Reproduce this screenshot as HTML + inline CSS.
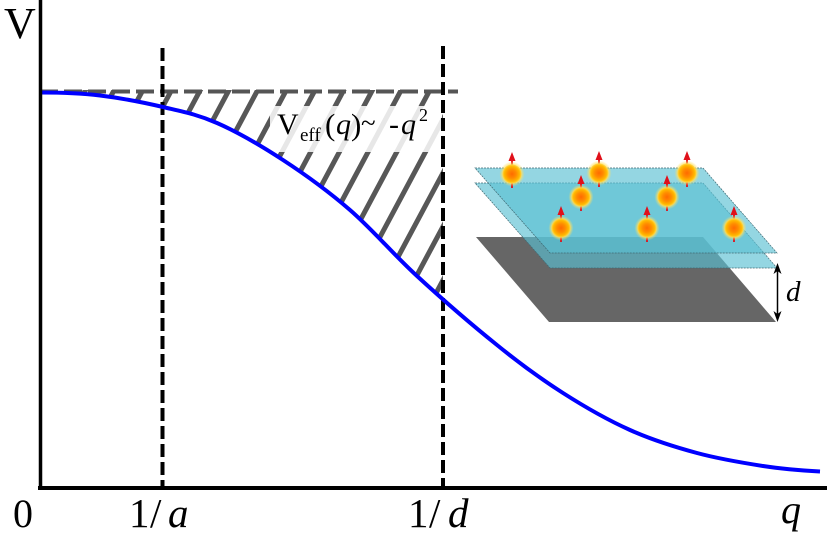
<!DOCTYPE html>
<html>
<head>
<meta charset="utf-8">
<style>
  html, body { margin: 0; padding: 0; background: #fff; width: 827px; height: 539px; overflow: hidden; }
  svg { display: block; overflow: hidden; }
  text { font-family: "Liberation Serif", "DejaVu Serif", serif; fill: #000; }
</style>
</head>
<body>
<svg width="827" height="539" viewBox="0 0 827 539" xmlns="http://www.w3.org/2000/svg">
  <defs>
    <clipPath id="hclip">
      <rect x="40" y="90" width="403" height="250"/>
    </clipPath>
    <radialGradient id="ball" cx="50%" cy="50%" r="50%">
      <stop offset="0%" stop-color="#ff6a00"/>
      <stop offset="45%" stop-color="#ff8c00"/>
      <stop offset="80%" stop-color="#ffb800"/>
      <stop offset="100%" stop-color="#ffd84a"/>
    </radialGradient>
    <radialGradient id="glow" cx="50%" cy="50%" r="50%">
      <stop offset="70%" stop-color="#ffe060" stop-opacity="0.9"/>
      <stop offset="100%" stop-color="#ffe060" stop-opacity="0"/>
    </radialGradient>
  </defs>

  <!-- hatch lines -->
  <g clip-path="url(#hclip)">
    <path stroke="#575757" stroke-width="5" fill="none" d="
      M88.2,85 L40,175
      M116.9,85 L40,228
      M145.6,85 L40,282
      M174.3,85 L40,336
      M203.0,85 L66.6,340
      M231.7,85 L95.3,340
      M260.4,85 L124.0,340
      M289.1,85 L152.7,340
      M317.8,85 L181.4,340
      M346.5,85 L210.1,340
      M375.2,85 L238.8,340
      M403.9,85 L267.5,340
      M432.6,85 L296.2,340
      M461.3,85 L324.9,340
      M490.0,85 L353.6,340
      M518.7,85 L382.3,340
      M547.4,85 L411.0,340"/>
  </g>

  <!-- white fill under the curve -->
  <path fill="#fff" d="M40,92.5 C60,92.5 79.5,93 100,95.5 C120.5,98 143.5,102.4 163,107 C182.5,111.6 197,114.2 217,123 C237,131.8 260.8,145.5 283,160 C305.2,174.5 327.7,190.7 350,210 C372.3,229.3 392.5,253.5 417,276 C441.5,298.5 472.7,325.5 497,345 C521.3,364.8 540.8,378.8 563,393 C585.2,407.2 607.7,420 630,430 C652.3,440 674.8,447 697,453 C719.2,459 742.5,462.8 763,466 C783.5,469.2 801,470.5 820,471.5 L820,487 L40,487 Z"/>

  <!-- label background -->
  <rect x="270" y="106" width="172" height="46" fill="#fff" fill-opacity="0.86"/>

  <!-- horizontal dashed line -->
  <line x1="40" y1="91.5" x2="458" y2="91.5" stroke="#555" stroke-width="4" stroke-dasharray="18 6"/>

  <!-- vertical dashed lines -->
  <line x1="162.5" y1="48" x2="162.5" y2="487" stroke="#000" stroke-width="4" stroke-dasharray="13 5"/>
  <line x1="443" y1="46" x2="443" y2="487" stroke="#000" stroke-width="4" stroke-dasharray="13 5"/>

  <!-- curve -->
  <path fill="none" stroke="#0000ff" stroke-width="4" d="M40,92.5 C60,92.5 79.5,93 100,95.5 C120.5,98 143.5,102.4 163,107 C182.5,111.6 197,114.2 217,123 C237,131.8 260.8,145.5 283,160 C305.2,174.5 327.7,190.7 350,210 C372.3,229.3 392.5,253.5 417,276 C441.5,298.5 472.7,325.5 497,345 C521.3,364.8 540.8,378.8 563,393 C585.2,407.2 607.7,420 630,430 C652.3,440 674.8,447 697,453 C719.2,459 742.5,462.8 763,466 C783.5,469.2 801,470.5 820,471.5"/>

  <!-- axes -->
  <line x1="40.5" y1="0" x2="40.5" y2="490" stroke="#000" stroke-width="3.5"/>
  <line x1="38" y1="488" x2="827" y2="488" stroke="#000" stroke-width="4"/>

  <!-- label V_eff(q) ~ -q^2 -->
  <text font-size="30" x="277" y="134">V</text>
  <text font-size="19" x="300" y="141">eff</text>
  <text font-size="31" x="325" y="135">(</text>
  <text font-size="30" x="336" y="134" font-style="italic">q</text>
  <text font-size="31" x="351" y="135">)</text>
  <text font-size="27" x="361" y="132">~</text>
  <text font-size="30" x="389" y="134">-</text>
  <text font-size="30" x="401" y="134" font-style="italic">q</text>
  <text font-size="18" x="419" y="121">2</text>

  <!-- axis labels -->
  <text font-size="44" x="4" y="38">V</text>
  <text font-size="40" x="13" y="527">0</text>
  <text font-size="41" y="527"><tspan x="129">1</tspan><tspan x="150">/</tspan><tspan x="168" font-style="italic">a</tspan></text>
  <text font-size="41" y="527"><tspan x="408">1</tspan><tspan x="429">/</tspan><tspan x="448" font-style="italic">d</tspan></text>
  <text font-size="40" x="781" y="523" font-style="italic">q</text>

  <!-- inset: gray substrate -->
  <polygon points="476,237 703,237 776,322 549,322" fill="#666"/>
  <!-- lower cyan plane -->
  <polygon points="475,183 703,183 777,268 550,268" fill="#5bc0d3" fill-opacity="0.65" stroke="#3e6a74" stroke-width="0.7" stroke-dasharray="2 1"/>
  <!-- upper cyan plane -->
  <polygon points="475,168 703,168 777,253 550,253" fill="#5bc0d3" fill-opacity="0.65" stroke="#3e6a74" stroke-width="0.7" stroke-dasharray="2 1"/>

  <!-- spins -->
  <g>
    <g transform="translate(512,174)">
      <line x1="0" y1="14" x2="0" y2="-15" stroke="#e0101a" stroke-width="1.8"/>
      <path d="M-3.5,-13 L0,-22 L3.5,-13 Z" fill="#e0101a"/>
      <circle r="12.5" fill="url(#glow)"/>
      <circle r="9.5" fill="url(#ball)"/>
    </g>
    <g transform="translate(599,173)">
      <line x1="0" y1="14" x2="0" y2="-15" stroke="#e0101a" stroke-width="1.8"/>
      <path d="M-3.5,-13 L0,-22 L3.5,-13 Z" fill="#e0101a"/>
      <circle r="12.5" fill="url(#glow)"/>
      <circle r="9.5" fill="url(#ball)"/>
    </g>
    <g transform="translate(687,173)">
      <line x1="0" y1="14" x2="0" y2="-15" stroke="#e0101a" stroke-width="1.8"/>
      <path d="M-3.5,-13 L0,-22 L3.5,-13 Z" fill="#e0101a"/>
      <circle r="12.5" fill="url(#glow)"/>
      <circle r="9.5" fill="url(#ball)"/>
    </g>
    <g transform="translate(581,197)">
      <line x1="0" y1="14" x2="0" y2="-15" stroke="#e0101a" stroke-width="1.8"/>
      <path d="M-3.5,-13 L0,-22 L3.5,-13 Z" fill="#e0101a"/>
      <circle r="12.5" fill="url(#glow)"/>
      <circle r="9.5" fill="url(#ball)"/>
    </g>
    <g transform="translate(667,197)">
      <line x1="0" y1="14" x2="0" y2="-15" stroke="#e0101a" stroke-width="1.8"/>
      <path d="M-3.5,-13 L0,-22 L3.5,-13 Z" fill="#e0101a"/>
      <circle r="12.5" fill="url(#glow)"/>
      <circle r="9.5" fill="url(#ball)"/>
    </g>
    <g transform="translate(561,228)">
      <line x1="0" y1="14" x2="0" y2="-15" stroke="#e0101a" stroke-width="1.8"/>
      <path d="M-3.5,-13 L0,-22 L3.5,-13 Z" fill="#e0101a"/>
      <circle r="12.5" fill="url(#glow)"/>
      <circle r="9.5" fill="url(#ball)"/>
    </g>
    <g transform="translate(647,228)">
      <line x1="0" y1="14" x2="0" y2="-15" stroke="#e0101a" stroke-width="1.8"/>
      <path d="M-3.5,-13 L0,-22 L3.5,-13 Z" fill="#e0101a"/>
      <circle r="12.5" fill="url(#glow)"/>
      <circle r="9.5" fill="url(#ball)"/>
    </g>
    <g transform="translate(734,228)">
      <line x1="0" y1="14" x2="0" y2="-15" stroke="#e0101a" stroke-width="1.8"/>
      <path d="M-3.5,-13 L0,-22 L3.5,-13 Z" fill="#e0101a"/>
      <circle r="12.5" fill="url(#glow)"/>
      <circle r="9.5" fill="url(#ball)"/>
    </g>
  </g>

  <!-- d arrow -->
  <line x1="777.5" y1="266" x2="777.5" y2="319" stroke="#000" stroke-width="1.5"/>
  <path d="M773.5,274 L777.5,263 L781.5,274 L777.5,271 Z" fill="#000"/>
  <path d="M773.5,311 L777.5,322 L781.5,311 L777.5,314 Z" fill="#000"/>
  <text font-size="29" x="786" y="301" font-style="italic">d</text>
</svg>
</body>
</html>
